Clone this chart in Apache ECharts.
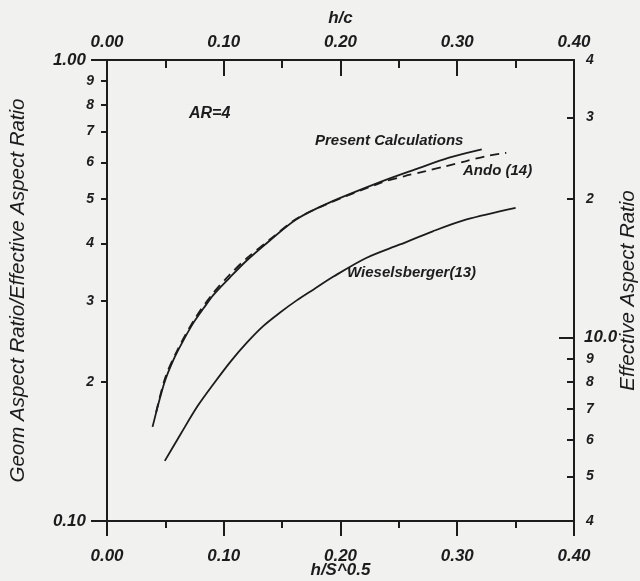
<!DOCTYPE html>
<html>
<head>
<meta charset="utf-8">
<script src="https://cdn.jsdelivr.net/npm/echarts@6/dist/echarts.min.js"></script>
<style>
  html, body { margin: 0; padding: 0; background: #f1f1f0; }
  #chart { width: 640px; height: 581px; }
</style>
</head>
<body>
<div id="chart"></div>
<script>
// h/S^0.5 vs Geom AR / Effective AR, AR=4
const presentX = [0.039, 0.049, 0.057, 0.066, 0.074, 0.083, 0.091, 0.105, 0.119, 0.139, 0.162, 0.190, 0.236, 0.264, 0.293, 0.321]
const presentY = [0.160, 0.199, 0.224, 0.248, 0.269, 0.290, 0.309, 0.337, 0.366, 0.405, 0.451, 0.490, 0.546, 0.579, 0.614, 0.640]

const andoX = [0.042, 0.050, 0.060, 0.075, 0.090, 0.105, 0.120, 0.140, 0.162, 0.190, 0.236, 0.255, 0.273, 0.290, 0.307, 0.324, 0.342]
const andoY = [0.172, 0.205, 0.234, 0.274, 0.310, 0.342, 0.372, 0.409, 0.452, 0.489, 0.543, 0.560, 0.574, 0.588, 0.603, 0.618, 0.629]

const wieselX = [0.0495, 0.0635, 0.0776, 0.0917, 0.106, 0.120, 0.134, 0.148, 0.1625, 0.177, 0.194, 0.222, 0.251, 0.279, 0.308, 0.350]
const wieselY = [0.135, 0.155, 0.1775, 0.199, 0.222, 0.244, 0.265, 0.283, 0.301, 0.318, 0.339, 0.372, 0.398, 0.425, 0.451, 0.478]

// tick values
const leftMinorTicks = [0.2, 0.3, 0.4, 0.5, 0.6, 0.7, 0.8, 0.9]
const rightMajorTicks = [10]
const rightMinorTicks = [5, 6, 7, 8, 9, 20, 30]
const rightMinorLabels = [4, 5, 6, 7, 8, 9, 20, 30, 40]

const ink = '#1c1c1c'
const font = "'Liberation Sans', Arial, sans-serif"
const boldLabel = (size) => ({
    color: ink, fontSize: size, fontFamily: font, fontStyle: 'italic', fontWeight: 'bold'
})
const zip = (xs, ys) => xs.map((x, i) => [x, ys[i]])

const chart = echarts.init(document.getElementById('chart'))

const xBase = {
    type: 'value',
    min: 0,
    max: 0.4,
    interval: 0.1,
    splitLine: { show: false },
    axisLine: { lineStyle: { color: ink, width: 2 } },
    minorSplitLine: { show: false },
    nameLocation: 'middle',
    nameMoveOverlap: false,
    nameTextStyle: boldLabel(17)
}

const lineSeries = (name, xs, ys, dashed) => ({
    name: name,
    type: 'line',
    smooth: 0.3,
    showSymbol: false,
    data: zip(xs, ys),
    lineStyle: { color: ink, width: 1.8, type: dashed ? [9, 6] : 'solid' }
})

const option = {
    backgroundColor: '#f1f1f0',
    animation: false,
    grid: { left: 107, right: 66, top: 60, height: 461, outerBoundsMode: 'none' },
    xAxis: [
        Object.assign({}, xBase, {
            position: 'bottom',
            name: 'h/S^0.5',
            nameGap: 41,
            axisTick: { length: 15, lineStyle: { color: ink, width: 2 } },
            minorTick: { show: true, splitNumber: 2, length: 7, lineStyle: { color: ink, width: 2 } },
            axisLabel: Object.assign(boldLabel(17), { formatter: v => v.toFixed(2), margin: 27 })
        }),
        Object.assign({}, xBase, {
            position: 'top',
            name: 'h/c',
            nameGap: 33,
            axisTick: { inside: true, length: 16, lineStyle: { color: ink, width: 2 } },
            minorTick: { show: true, splitNumber: 2, length: 8, lineStyle: { color: ink, width: 2 } },
            axisLabel: Object.assign(boldLabel(17), { formatter: v => v.toFixed(2), margin: 9 })
        })
    ],
    yAxis: [
        {
            type: 'log',
            logBase: 10,
            min: 0.1,
            max: 1,
            position: 'left',
            splitLine: { show: false },
            axisLine: { lineStyle: { color: ink, width: 2 } },
            axisTick: { length: 16, lineStyle: { color: ink, width: 2 } },
            axisLabel: Object.assign(boldLabel(17), { margin: 21, formatter: v => Number(v).toFixed(2) }),
            name: 'Geom Aspect Ratio/Effective Aspect Ratio',
            nameLocation: 'middle',
            nameMoveOverlap: false,
            nameGap: 79,
            nameTextStyle: { color: ink, fontSize: 20.5, fontFamily: font, fontStyle: 'italic' }
        },
        {
            type: 'log',
            logBase: 10,
            min: 0.1,
            max: 1,
            position: 'left',
            splitLine: { show: false },
            axisLine: { show: false },
            axisTick: { length: 6, customValues: leftMinorTicks, lineStyle: { color: ink, width: 2 } },
            axisLabel: Object.assign(boldLabel(14), {
                margin: 13,
                customValues: leftMinorTicks,
                formatter: v => String(Math.round(v * 10))
            })
        },
        {
            type: 'log',
            logBase: 10,
            min: 4,
            max: 40,
            position: 'right',
            splitLine: { show: false },
            axisLine: { lineStyle: { color: ink, width: 2 } },
            axisTick: { inside: true, length: 15, customValues: rightMajorTicks, lineStyle: { color: ink, width: 2 } },
            axisLabel: Object.assign(boldLabel(17), {
                margin: 10,
                customValues: rightMajorTicks,
                formatter: v => Number(v).toFixed(1)
            }),
            name: 'Effective Aspect Ratio',
            nameLocation: 'middle',
            nameMoveOverlap: false,
            nameGap: 44,
            nameTextStyle: { color: ink, fontSize: 20.5, fontFamily: font, fontStyle: 'italic' }
        },
        {
            type: 'log',
            logBase: 10,
            min: 4,
            max: 40,
            position: 'right',
            splitLine: { show: false },
            axisLine: { show: false },
            axisTick: { inside: true, length: 7, customValues: rightMinorTicks, lineStyle: { color: ink, width: 2 } },
            axisLabel: Object.assign(boldLabel(14), {
                margin: 12,
                customValues: rightMinorLabels,
                formatter: v => String(v < 10 ? Math.round(v) : Math.round(v / 10))
            })
        }
    ],
    series: [
        lineSeries('Present Calculations', presentX, presentY, false),
        lineSeries('Ando (14)', andoX, andoY, true),
        lineSeries('Wieselsberger(13)', wieselX, wieselY, false)
    ],
    graphic: [
        { type: 'text', x: 189, y: 114, style: { text: 'AR=4', verticalAlign: 'middle', fill: ink, font: "italic bold 16px 'Liberation Sans', Arial" } },
        { type: 'text', x: 315, y: 141, style: { text: 'Present Calculations', verticalAlign: 'middle', fill: ink, font: "italic bold 15px 'Liberation Sans', Arial" } },
        { type: 'text', x: 463, y: 171, style: { text: 'Ando (14)', verticalAlign: 'middle', fill: ink, font: "italic bold 15px 'Liberation Sans', Arial" } },
        { type: 'text', x: 347, y: 273, style: { text: 'Wieselsberger(13)', verticalAlign: 'middle', fill: ink, font: "italic bold 15px 'Liberation Sans', Arial" } }
    ]
}

chart.setOption(option)
</script>
</body>
</html>
